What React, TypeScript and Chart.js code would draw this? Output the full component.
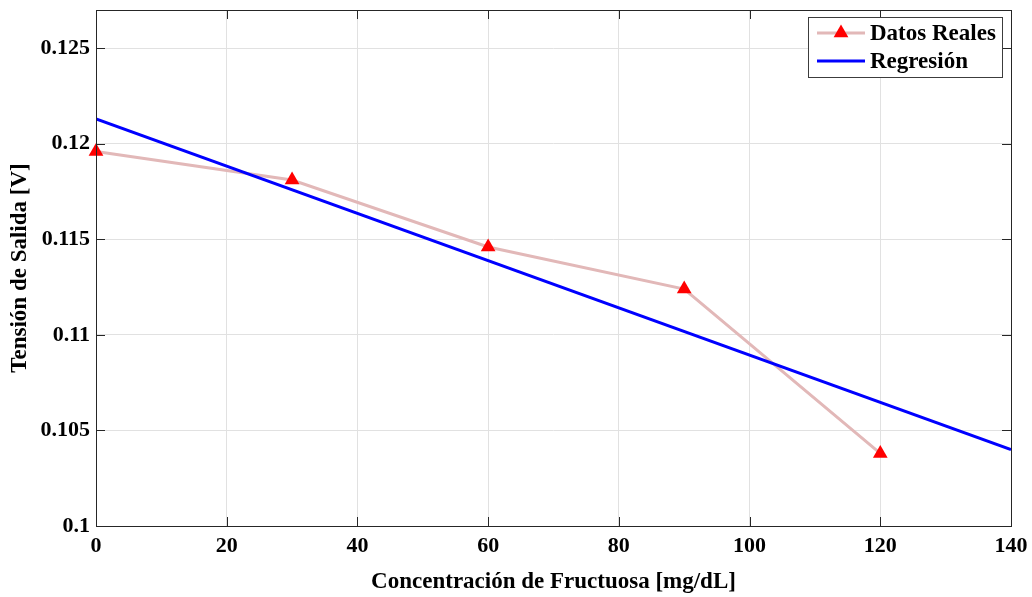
import React, { useEffect, useRef } from "react";
import { Chart, registerables } from "chart.js";

Chart.register(...registerables);

const concentration = [0, 30, 60, 90, 120];
const voltage = [0.1196, 0.1181, 0.1146, 0.1124, 0.1038];
const regressionX = [0, 140];
const regressionY = [0.1213, 0.104];
const xTicks = [0, 20, 40, 60, 80, 100, 120, 140];
const yTicks = [0.1, 0.105, 0.11, 0.115, 0.12, 0.125];
const seriesNames = ["Datos Reales", "Regresión"];

const FONT = "'Liberation Serif', 'Times New Roman', serif";
const PINK = "rgb(226,184,184)";
const RED = "rgb(255,0,0)";
const BLUE = "rgb(0,0,255)";

const framePlugin = {
  id: "frame",
  afterDraw(chart: any) {
    const { ctx, chartArea } = chart;
    const { left, right, top, bottom } = chartArea;
    const xs = chart.scales.x;
    const ys = chart.scales.y;
    ctx.save();
    ctx.strokeStyle = "rgb(38,38,38)";
    ctx.lineWidth = 1;
    ctx.beginPath();
    const tl = 9;
    xTicks.forEach((v) => {
      const px = Math.round(xs.getPixelForValue(v)) + 0.5;
      ctx.moveTo(px, bottom);
      ctx.lineTo(px, bottom - tl);
      ctx.moveTo(px, top);
      ctx.lineTo(px, top + tl);
    });
    yTicks.forEach((v) => {
      const py = Math.round(ys.getPixelForValue(v)) + 0.5;
      ctx.moveTo(left, py);
      ctx.lineTo(left + tl, py);
      ctx.moveTo(right, py);
      ctx.lineTo(right - tl, py);
    });
    ctx.stroke();
    ctx.strokeRect(Math.round(left) + 0.5, Math.round(top) + 0.5, Math.round(right - left), Math.round(bottom - top));

    // legend
    const lx = 808.5, ly = 17.5, lw = 194, lh = 60;
    ctx.fillStyle = "#ffffff";
    ctx.fillRect(lx, ly, lw, lh);
    ctx.strokeStyle = "rgb(60,60,60)";
    ctx.strokeRect(lx, ly, lw, lh);
    const rows = [33, 61];
    ctx.font = `bold 23px ${FONT}`;
    ctx.textBaseline = "middle";
    ctx.textAlign = "left";
    ctx.strokeStyle = PINK;
    ctx.lineWidth = 3;
    ctx.beginPath();
    ctx.moveTo(817, rows[0]);
    ctx.lineTo(865, rows[0]);
    ctx.stroke();
    ctx.fillStyle = RED;
    ctx.beginPath();
    const r = 8.5;
    const cx = 841, cy = rows[0];
    ctx.moveTo(cx, cy - r);
    ctx.lineTo(cx + r * Math.sin((2 * Math.PI) / 3), cy - r * Math.cos((2 * Math.PI) / 3));
    ctx.lineTo(cx - r * Math.sin((2 * Math.PI) / 3), cy - r * Math.cos((2 * Math.PI) / 3));
    ctx.closePath();
    ctx.fill();
    ctx.fillStyle = "#000";
    ctx.fillText(seriesNames[0], 870, rows[0] + 1);
    ctx.strokeStyle = BLUE;
    ctx.lineWidth = 3;
    ctx.beginPath();
    ctx.moveTo(817, rows[1]);
    ctx.lineTo(865, rows[1]);
    ctx.stroke();
    ctx.fillStyle = "#000";
    ctx.fillText(seriesNames[1], 870, rows[1] + 1);
    ctx.restore();
  },
};

export default function App() {
  const canvasRef = useRef<HTMLCanvasElement | null>(null);

  useEffect(() => {
    if (!canvasRef.current) return;
    const chart = new Chart(canvasRef.current, {
      type: "line",
      data: {
        datasets: [
          {
            label: seriesNames[1],
            data: regressionX.map((x, i) => ({ x, y: regressionY[i] })),
            borderColor: BLUE,
            borderWidth: 3,
            pointRadius: 0,
            fill: false,
            tension: 0,
            order: 1,
          },
          {
            label: seriesNames[0],
            data: concentration.map((x, i) => ({ x, y: voltage[i] })),
            borderColor: PINK,
            borderWidth: 3,
            pointStyle: "triangle",
            pointRadius: 8.5,
            pointBackgroundColor: RED,
            pointBorderColor: RED,
            pointBorderWidth: 0,
            fill: false,
            tension: 0,
            clip: false as any,
            order: 2,
          },
        ],
      },
      options: {
        animation: false,
        responsive: true,
        maintainAspectRatio: false,
        layout: { padding: { top: 10, right: 21, left: 0, bottom: 0 } },
        plugins: {
          legend: { display: false },
          tooltip: { enabled: false },
        },
        scales: {
          x: {
            type: "linear",
            min: 0,
            max: 140,
            afterBuildTicks: (s: any) => {
              s.ticks = xTicks.map((v) => ({ value: v }));
            },
            afterFit: (s: any) => {
              s.height = 71;
              s.paddingLeft = 0;
              s.paddingRight = 0;
            },
            grid: { color: "rgb(225,225,225)", drawTicks: false },
            border: { display: false },
            ticks: {
              padding: 7,
              color: "#000",
              font: { family: FONT, size: 22, weight: "bold" },
              maxRotation: 0,
            },
            title: {
              display: true,
              text: "Concentración de Fructuosa [mg/dL]",
              color: "#000",
              font: { family: FONT, size: 23, weight: "bold" },
              padding: { top: 0, bottom: 1 },
            },
          },
          y: {
            type: "linear",
            min: 0.1,
            max: 0.127,
            afterBuildTicks: (s: any) => {
              s.ticks = yTicks.map((v) => ({ value: v }));
            },
            afterFit: (s: any) => {
              s.width = 96;
              s.paddingTop = 0;
              s.paddingBottom = 0;
            },
            grid: { color: "rgb(225,225,225)", drawTicks: false },
            border: { display: false },
            ticks: {
              padding: 6,
              color: "#000",
              font: { family: FONT, size: 22, weight: "bold" },
              callback: (v: any) => String(Number(Number(v).toFixed(3))),
            },
            title: {
              display: true,
              text: "Tensión de Salida [V]",
              color: "#000",
              font: { family: FONT, size: 23, weight: "bold" },
              padding: { top: 6, bottom: 0 },
            },
          },
        },
      },
      plugins: [framePlugin],
    });
    return () => chart.destroy();
  }, []);

  return (
    <div style={{ position: "absolute", left: 0, top: 0, width: 1032, height: 597, background: "#fff" }}>
      <canvas ref={canvasRef} />
    </div>
  );
}
